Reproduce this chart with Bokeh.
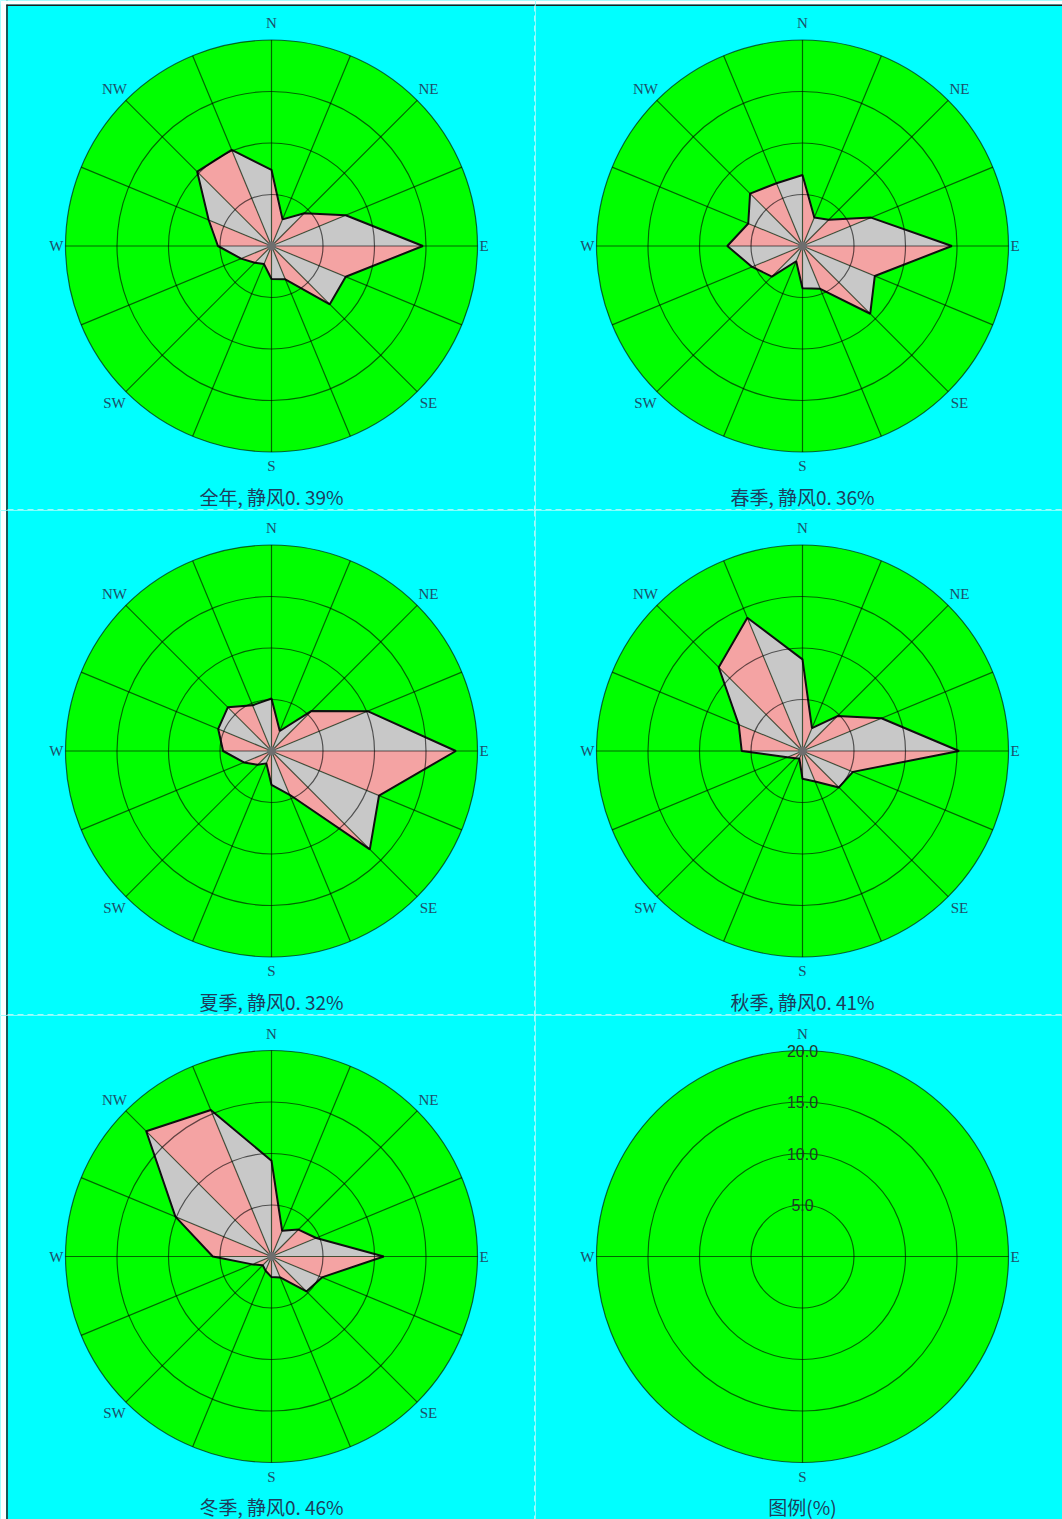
import numpy as np
from bokeh.plotting import figure
from bokeh.layouts import gridplot
from bokeh.core.properties import value
from bokeh.embed import file_html
from bokeh.resources import INLINE

# ---------------- data ----------------
directions = ["N", "NNE", "NE", "ENE", "E", "ESE", "SE", "SSE",
              "S", "SSW", "SW", "WSW", "W", "WNW", "NW", "NNW"]
annual = [7.4, 2.8, 4.5, 7.8, 14.7, 7.8, 8.0, 3.5, 3.2, 1.9, 2.3, 3.2, 5.2, 6.6, 10.2, 10.1]
spring = [6.9, 3.0, 3.6, 7.2, 14.5, 7.6, 9.3, 4.5, 4.1, 1.6, 4.2, 5.3, 7.3, 5.7, 7.2, 6.6]
summer = [5.1, 2.1, 5.5, 10.1, 17.9, 11.3, 13.5, 4.6, 3.3, 1.3, 1.9, 2.9, 4.7, 5.6, 6.0, 4.8]
autumn = [8.9, 2.4, 4.8, 8.3, 15.2, 5.3, 5.0, 3.2, 2.7, 0.8, 1.0, 1.6, 5.9, 6.7, 11.5, 14.0]
winter = [9.3, 2.7, 3.7, 4.7, 10.9, 5.3, 4.8, 2.2, 2.0, 1.5, 1.2, 2.0, 5.7, 10.1, 17.2, 15.4]
panel_titles = ["全年, 静风0. 39%", "春季, 静风0. 36%", "夏季, 静风0. 32%",
                "秋季, 静风0. 41%", "冬季, 静风0. 46%"]
legend_title = "图例(%)"
ring_values = [5, 10, 15, 20]
ring_labels = ["5.0", "10.0", "15.0", "20.0"]
compass_labels = ["N", "NE", "E", "SE", "S", "SW", "W", "NW"]

# ---------------- style / layout ----------------
CYAN = "#00FFFF"
GREEN = "#00FF00"
PINK = "#F4A3A3"
GREY = "#C8C8C8"
LBL = "#1E4E68"
TTL = "#1F3D5C"
PX = 206 / 20.0          # pixels per percent
COL_W = [535, 527]
ROW_H = [510, 505, 504]
CX = [271, 267]
CY = [245.5, 240.5, 241]
LETTER_FONT = value("Liberation Serif")
CJK_FONT = value("Noto Sans CJK SC")

theta = np.deg2rad(np.arange(16) * 22.5)


def make_fig(col, row):
    W, H = COL_W[col], ROW_H[row]
    cx, cy = CX[col], CY[row]
    p = figure(width=W, height=H,
               x_range=(-cx / PX, (W - cx) / PX),
               y_range=(-(H - cy) / PX, cy / PX),
               output_backend="svg", toolbar_location=None,
               x_axis_location=None, y_axis_location=None,
               min_border=0, background_fill_color=CYAN,
               border_fill_color=CYAN, outline_line_color=None)
    p.grid.visible = False
    ox, oy = sum(COL_W[:col]), sum(ROW_H[:row])

    def dx(xp):
        return (xp - ox - cx) / PX

    def dy(yp):
        return (cy - (yp - oy)) / PX

    x0, x1 = dx(ox), dx(ox + W)
    y0, y1 = dy(oy), dy(oy + H)
    # outer frame (top / left) of the picture
    if col == 0:
        p.quad(left=[dx(0)], right=[dx(5.5)], top=[y0], bottom=[y1],
               fill_color="white", line_color=None)
        p.segment(x0=[dx(6.5)], y0=[y0], x1=[dx(6.5)], y1=[y1],
                  line_color="#202020", line_width=1.5)
    if row == 0:
        p.quad(left=[x0], right=[x1], top=[dy(0)], bottom=[dy(4)],
               fill_color="white", line_color=None)
        p.segment(x0=[max(x0, dx(6))], y0=[dy(4.8)], x1=[x1], y1=[dy(4.8)],
                  line_color="#202020", line_width=1.5)
    # dashed separators
    if col == 0:
        p.segment(x0=[dx(534.5)], y0=[min(y0, dy(5))], x1=[dx(534.5)], y1=[y1],
                  line_color="#E0F4F6", line_width=1.5, line_dash="6 4")
    if row < 2:
        yy = dy(oy + H - 0.5)
        p.segment(x0=[max(x0, dx(7))], y0=[yy], x1=[x1], y1=[yy],
                  line_color="#E0F4F6", line_width=1.5, line_dash="6 4")
    return p


def draw_base(p):
    p.circle(x=[0], y=[0], radius=ring_values[-1], fill_color=GREEN,
             line_color=None)


def draw_grid(p, spokes):
    p.circle(x=[0] * len(ring_values), y=[0] * len(ring_values),
             radius=ring_values, fill_color=None, line_color="black",
             line_alpha=0.6, line_width=1.2)
    R = ring_values[-1]
    p.segment(x0=[0] * len(spokes), y0=[0] * len(spokes),
              x1=list(R * np.sin(spokes)), y1=list(R * np.cos(spokes)),
              line_color="black", line_alpha=0.6, line_width=1.2)


def draw_labels(p, labels):
    for lab in labels:
        if lab == "N":
            x, y, al, bl = 0, 223 / PX, "center", "middle"
        elif lab == "S":
            x, y, al, bl = 0, -220 / PX, "center", "middle"
        elif lab == "E":
            x, y, al, bl = 208 / PX, 0, "left", "middle"
        elif lab == "W":
            x, y, al, bl = -208 / PX, 0, "right", "middle"
        else:
            ang = {"NE": 45, "SE": 135, "SW": 225, "NW": 315}[lab]
            r = 222 / PX
            x, y = r * np.sin(np.deg2rad(ang)), r * np.cos(np.deg2rad(ang))
            al, bl = "center", "middle"
        p.text(x=[x], y=[y], text=[lab], text_font=LETTER_FONT,
               text_font_size="15px", text_color=LBL,
               text_align=al, text_baseline=bl)


def draw_title(p, txt):
    p.text(x=[0], y=[-250 / PX], text=[txt], text_font=CJK_FONT,
           text_font_size="19px", text_color=TTL,
           text_align="center", text_baseline="middle")


def draw_rose(p, vals):
    r = np.array(vals)
    xs_pt = r * np.sin(theta)
    ys_pt = r * np.cos(theta)
    xs, ys, colors = [], [], []
    for k in range(16):
        k2 = (k + 1) % 16
        xs.append([0, xs_pt[k], xs_pt[k2]])
        ys.append([0, ys_pt[k], ys_pt[k2]])
        colors.append(PINK if k % 2 == 0 else GREY)
    p.patches(xs=xs, ys=ys, fill_color=colors, line_color=None)
    p.patch(x=list(xs_pt), y=list(ys_pt), fill_color=None,
            line_color="#101010", line_width=2)


series = [annual, spring, summer, autumn, winter]
figs = []
for i in range(6):
    col, row = i % 2, i // 2
    p = make_fig(col, row)
    draw_base(p)
    if i < 5:
        draw_rose(p, series[i])
        draw_grid(p, theta)
        p.scatter(x=[0], y=[0], size=9, fill_color="#6E6E6E", line_color=None)
        draw_labels(p, compass_labels)
        draw_title(p, panel_titles[i])
    else:
        draw_grid(p, np.deg2rad(np.array([0, 90, 180, 270])))
        draw_labels(p, ["N", "E", "S", "W"])
        p.text(x=[0] * 4, y=ring_values, text=ring_labels,
               text_font=value("Liberation Sans"), text_font_size="16px",
               text_color="#23382A", text_align="center",
               text_baseline="middle")
        draw_title(p, legend_title)
    figs.append(p)

grid = gridplot([[figs[0], figs[1]], [figs[2], figs[3]], [figs[4], figs[5]]],
                toolbar_location=None)

open("out.html", "w").write(file_html(grid, INLINE))
